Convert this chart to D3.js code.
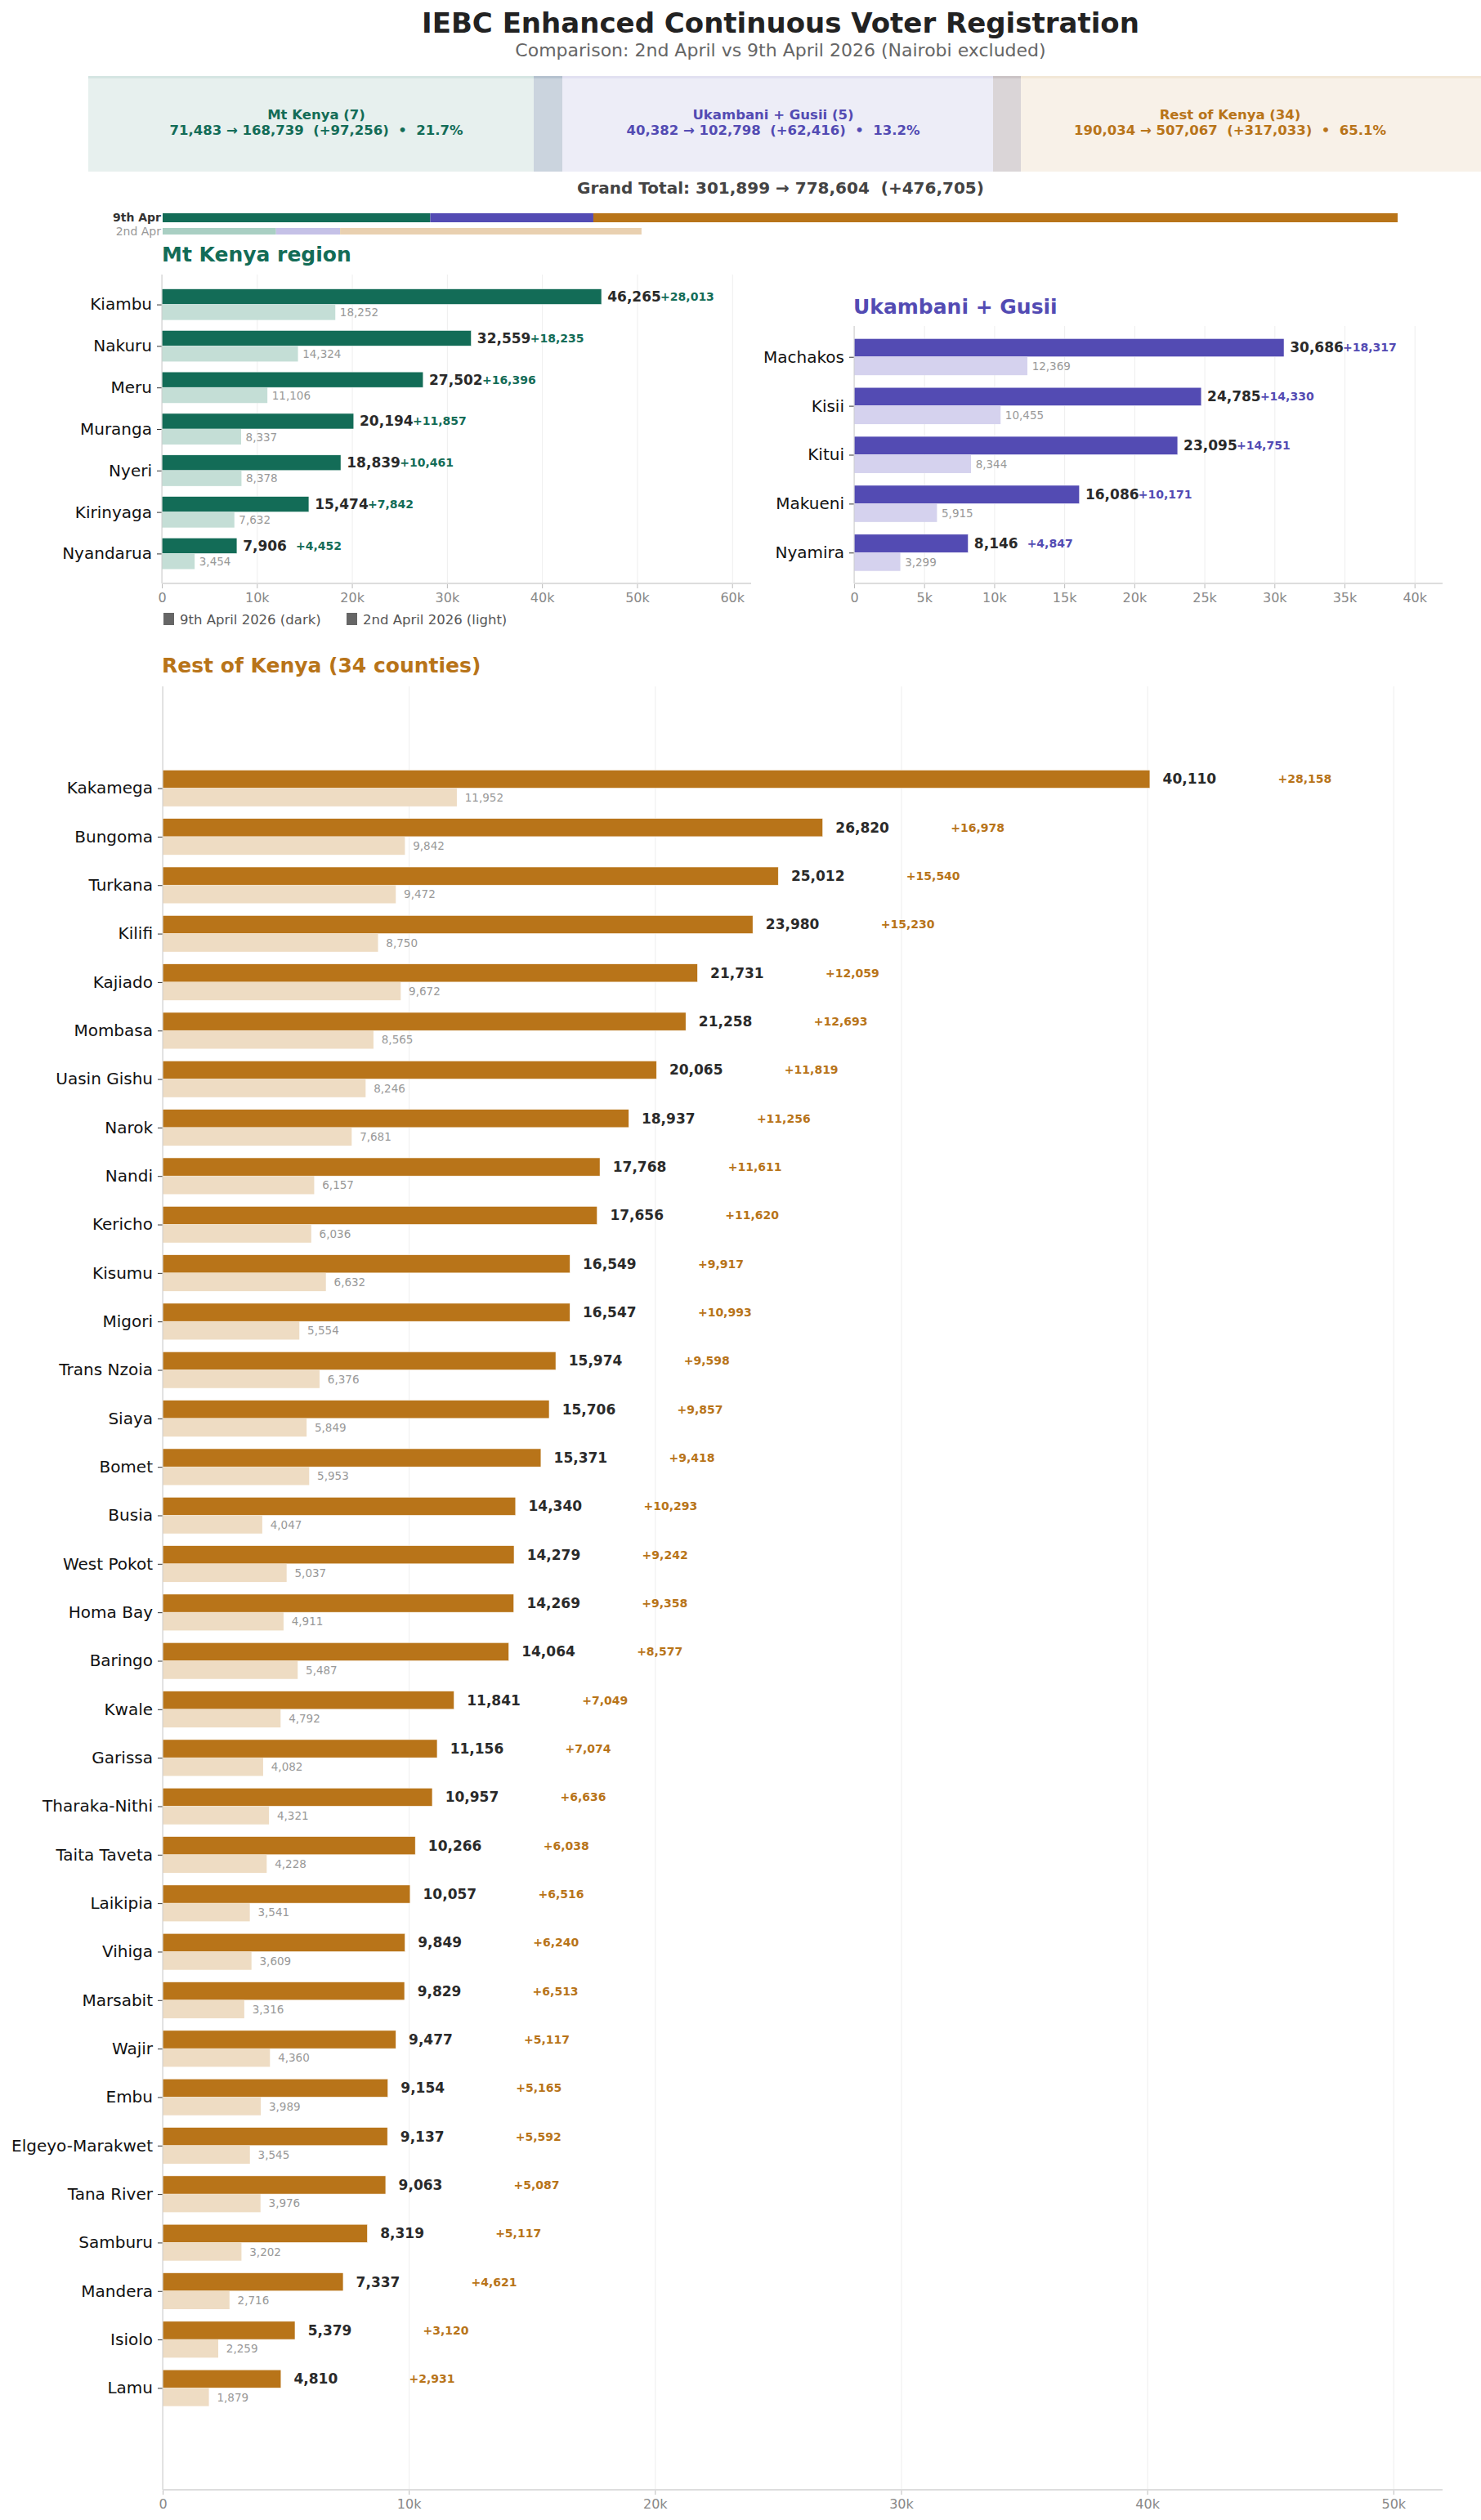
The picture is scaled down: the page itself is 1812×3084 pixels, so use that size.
<!DOCTYPE html>
<html>
<head>
<meta charset="utf-8">
<script src="https://cdn.jsdelivr.net/npm/d3@7"></script>
<style>
  body { margin: 0; background: #fff; }
  text { font-family: "DejaVu Sans", sans-serif; white-space: pre; }
</style>
</head>
<body>
<div id="chart"></div>
<script>
// data
var mtKenyaCounties = ["Kiambu", "Nakuru", "Meru", "Muranga", "Nyeri", "Kirinyaga", "Nyandarua"];
var mtKenyaApr9 = [46265, 32559, 27502, 20194, 18839, 15474, 7906];
var mtKenyaApr2 = [18252, 14324, 11106, 8337, 8378, 7632, 3454];

var ukambaniCounties = ["Machakos", "Kisii", "Kitui", "Makueni", "Nyamira"];
var ukambaniApr9 = [30686, 24785, 23095, 16086, 8146];
var ukambaniApr2 = [12369, 10455, 8344, 5915, 3299];

var restCounties = ["Kakamega", "Bungoma", "Turkana", "Kilifi", "Kajiado", "Mombasa", "Uasin Gishu", "Narok",
  "Nandi", "Kericho", "Kisumu", "Migori", "Trans Nzoia", "Siaya", "Bomet", "Busia", "West Pokot", "Homa Bay",
  "Baringo", "Kwale", "Garissa", "Tharaka-Nithi", "Taita Taveta", "Laikipia", "Vihiga", "Marsabit", "Wajir",
  "Embu", "Elgeyo-Marakwet", "Tana River", "Samburu", "Mandera", "Isiolo", "Lamu"];
var restApr9 = [40110, 26820, 25012, 23980, 21731, 21258, 20065, 18937, 17768, 17656, 16549, 16547, 15974,
  15706, 15371, 14340, 14279, 14269, 14064, 11841, 11156, 10957, 10266, 10057, 9849, 9829, 9477, 9154, 9137,
  9063, 8319, 7337, 5379, 4810];
var restApr2 = [11952, 9842, 9472, 8750, 9672, 8565, 8246, 7681, 6157, 6036, 6632, 5554, 6376, 5849, 5953,
  4047, 5037, 4911, 5487, 4792, 4082, 4321, 4228, 3541, 3609, 3316, 4360, 3989, 3545, 3976, 3202, 2716,
  2259, 1879];

var regionNames = ["Mt Kenya (7)", "Ukambani + Gusii (5)", "Rest of Kenya (34)"];
var mtTicks = [0, 10000, 20000, 30000, 40000, 50000, 60000];
var ukTicks = [0, 5000, 10000, 15000, 20000, 25000, 30000, 35000, 40000];
var restTicks = [0, 10000, 20000, 30000, 40000, 50000];

var green = "#136c57", greenLight = "#c4ded6", greenMid = "#a9cfc3";
var purple = "#534bb3", purpleLight = "#d5d2ee", purpleMid = "#c5c1e7";
var orange = "#b87419", orangeLight = "#eedcc3", orangeMid = "#e9d0b0";

var fmt = d3.format(",");
var svgWidth = 1812, svgHeight = 3084;

var svg = d3.select('#chart')
  .append('svg')
  .attr("width", svgWidth)
  .attr("height", svgHeight);

// titles
svg.append("text").attr("x", 955).attr("y", 40).attr("text-anchor", "middle")
  .attr("font-size", 34).attr("font-weight", "bold").attr("fill", "#222")
  .text("IEBC Enhanced Continuous Voter Registration");
svg.append("text").attr("x", 955).attr("y", 69).attr("text-anchor", "middle")
  .attr("font-size", 22).attr("fill", "#666")
  .text("Comparison: 2nd April vs 9th April 2026 (Nairobi excluded)");

// summary boxes
var totals9 = [d3.sum(mtKenyaApr9), d3.sum(ukambaniApr9), d3.sum(restApr9)];
var totals2 = [d3.sum(mtKenyaApr2), d3.sum(ukambaniApr2), d3.sum(restApr2)];
var grand9 = d3.sum(totals9), grand2 = d3.sum(totals2);
var darkColors = [green, purple, orange];
var midColors = [greenMid, purpleMid, orangeMid];

var boxLeft = [108, 653, 1215], boxRight = [688, 1249, 1812], boxText = [387, 946, 1505];
var boxes = svg.append("g");
boxes.selectAll("rect.box").data(regionNames).enter().append("rect")
  .attr("x", (d, i) => boxLeft[i]).attr("y", 93)
  .attr("width", (d, i) => boxRight[i] - boxLeft[i]).attr("height", 117)
  .attr("fill", (d, i) => darkColors[i]).attr("fill-opacity", 0.1);
boxes.selectAll("rect.edge").data(regionNames).enter().append("rect")
  .attr("x", (d, i) => boxLeft[i]).attr("y", 93)
  .attr("width", (d, i) => boxRight[i] - boxLeft[i]).attr("height", 3)
  .attr("fill", (d, i) => darkColors[i]).attr("fill-opacity", 0.08);
// overlaps between neighbouring boxes
boxes.selectAll("rect.overlap").data([0, 1]).enter().append("rect")
  .attr("x", i => boxLeft[i + 1]).attr("y", 93)
  .attr("width", i => boxRight[i] - boxLeft[i + 1]).attr("height", 117)
  .attr("fill", "#7a8aa0").attr("fill-opacity", 0.12);

regionNames.forEach(function(name, i) {
  var t = boxes.append("text").attr("text-anchor", "middle").attr("font-weight", "bold")
    .attr("font-size", 16.5).attr("fill", darkColors[i]);
  t.append("tspan").attr("x", boxText[i]).attr("y", 146).text(name);
  t.append("tspan").attr("x", boxText[i]).attr("y", 165)
    .text(fmt(totals2[i]) + " \u2192 " + fmt(totals9[i]) + "  (+" + fmt(totals9[i] - totals2[i]) + ")  \u2022  " +
      (totals9[i] / grand9 * 100).toFixed(1) + "%");
});

svg.append("text").attr("x", 955).attr("y", 237).attr("text-anchor", "middle")
  .attr("font-size", 20).attr("font-weight", "bold").attr("fill", "#444")
  .text("Grand Total: " + fmt(grand2) + " \u2192 " + fmt(grand9) + "  (+" + fmt(grand9 - grand2) + ")");

// stacked total bars
var xs = d3.scaleLinear().domain([0, grand9]).range([199, 1710]);
var cum9 = [0].concat(Array.from(d3.cumsum(totals9)));
var cum2 = [0].concat(Array.from(d3.cumsum(totals2)));
svg.selectAll("rect.s9").data(totals9).enter().append("rect")
  .attr("x", (d, i) => xs(cum9[i])).attr("y", 261).attr("height", 11)
  .attr("width", (d, i) => xs(cum9[i + 1]) - xs(cum9[i])).attr("fill", (d, i) => darkColors[i]);
svg.selectAll("rect.s2").data(totals2).enter().append("rect")
  .attr("x", (d, i) => xs(cum2[i])).attr("y", 279).attr("height", 8)
  .attr("width", (d, i) => xs(cum2[i + 1]) - xs(cum2[i])).attr("fill", (d, i) => midColors[i]);
svg.append("text").attr("x", 197).attr("y", 267).attr("text-anchor", "end").attr("dominant-baseline", "middle")
  .attr("font-size", 14).attr("font-weight", "bold").attr("fill", "#333").text("9th Apr");
svg.append("text").attr("x", 197).attr("y", 284).attr("text-anchor", "end").attr("dominant-baseline", "middle")
  .attr("font-size", 14).attr("fill", "#999").text("2nd Apr");

function drawPanel(p) {
  var x = d3.scaleLinear().domain([0, p.xmax]).range([p.left, p.right]);
  var y = d3.scalePoint().domain(p.counties).range([p.top, p.bottom]).padding(p.pad);
  var bh = y.step() * 0.375;
  var g = svg.append("g");

  // grid
  g.append("g").attr("transform", "translate(0," + p.bottom + ")")
    .call(d3.axisBottom(x).tickValues(p.ticks).tickSize(-(p.bottom - p.top)).tickFormat(""))
    .call(s => s.select(".domain").remove())
    .selectAll("line").attr("stroke", "#eee");

  var rows = p.counties.map((c, i) => ({ county: c, now: p.apr9[i], before: p.apr2[i], diff: p.apr9[i] - p.apr2[i] }));

  g.selectAll("rect.dark").data(rows).enter().append("rect")
    .attr("x", x(0)).attr("y", d => y(d.county) - bh)
    .attr("width", d => x(d.now) - x(0)).attr("height", bh)
    .attr("fill", p.color).attr("stroke", "#fff").attr("stroke-width", 0.6);
  g.selectAll("rect.light").data(rows).enter().append("rect")
    .attr("x", x(0)).attr("y", d => y(d.county))
    .attr("width", d => x(d.before) - x(0)).attr("height", bh)
    .attr("fill", p.light);

  g.selectAll("text.val").data(rows).enter().append("text")
    .attr("x", d => x(d.now + p.xmax * 0.01)).attr("y", d => y(d.county) - bh / 2)
    .attr("dominant-baseline", "central").attr("font-size", 17).attr("font-weight", "bold")
    .attr("fill", "#2a2a2a").text(d => fmt(d.now));
  g.selectAll("text.delta").data(rows).enter().append("text")
    .attr("x", d => x(d.now + p.xmax * 0.1)).attr("y", d => y(d.county) - bh / 2)
    .attr("dominant-baseline", "central").attr("font-size", 14).attr("font-weight", "bold")
    .attr("fill", p.color).text(d => "+" + fmt(d.diff));
  g.selectAll("text.prev").data(rows).enter().append("text")
    .attr("x", d => x(d.before + p.xmax * 0.005) + 2).attr("y", d => y(d.county) + bh / 2)
    .attr("dominant-baseline", "central").attr("font-size", 13.5)
    .attr("fill", "#999").text(d => fmt(d.before));

  // axes
  var ya = g.append("g").attr("transform", "translate(" + p.left + ",0)")
    .call(d3.axisLeft(y).tickSize(6).tickPadding(6).tickSizeOuter(0));
  ya.select(".domain").remove();
  ya.selectAll("text").attr("font-size", 20).attr("fill", "#111").attr("font-family", "DejaVu Sans");
  ya.selectAll("line").attr("stroke", "#333");
  g.append("line").attr("x1", p.left).attr("x2", p.left).attr("y1", p.top).attr("y2", p.bottom)
    .attr("stroke", "#ccc");

  var xa = g.append("g").attr("transform", "translate(0," + p.bottom + ")")
    .call(d3.axisBottom(x).tickValues(p.ticks).tickSize(6).tickPadding(6)
      .tickFormat(d => d === 0 ? "0" : (d / 1000) + "k"));
  xa.select(".domain").remove();
  xa.selectAll("text").attr("font-size", 16).attr("fill", "#888").attr("font-family", "DejaVu Sans");
  xa.selectAll("line").attr("stroke", "#bbb");
  g.append("line").attr("x1", p.left).attr("x2", p.right).attr("y1", p.bottom).attr("y2", p.bottom)
    .attr("stroke", "#ddd").attr("stroke-width", 2);

  g.append("text").attr("x", p.titleX).attr("y", p.titleY).attr("font-size", 25)
    .attr("font-weight", "bold").attr("fill", p.color).text(p.title);
}

drawPanel({
  title: "Mt Kenya region", titleX: 198, titleY: 320,
  counties: mtKenyaCounties, apr9: mtKenyaApr9, apr2: mtKenyaApr2,
  color: green, light: greenLight, xmax: 62000, ticks: mtTicks,
  left: 198, right: 919, top: 336, bottom: 714, pad: 0.72
});
drawPanel({
  title: "Ukambani + Gusii", titleX: 1044, titleY: 384,
  counties: ukambaniCounties, apr9: ukambaniApr9, apr2: ukambaniApr2,
  color: purple, light: purpleLight, xmax: 42000, ticks: ukTicks,
  left: 1045, right: 1765, top: 399, bottom: 714, pad: 0.63
});
drawPanel({
  title: "Rest of Kenya (34 counties)", titleX: 198, titleY: 823,
  counties: restCounties, apr9: restApr9, apr2: restApr2,
  color: orange, light: orangeLight, xmax: 52000, ticks: restTicks,
  left: 199, right: 1765, top: 840, bottom: 3047, pad: 2.1
});

// legend under the Mt Kenya panel
var legend = svg.append("g");
legend.append("rect").attr("x", 200).attr("y", 750).attr("width", 13).attr("height", 15).attr("fill", "#666");
legend.append("text").attr("x", 220).attr("y", 758).attr("dominant-baseline", "central")
  .attr("font-size", 16.5).attr("fill", "#555").text("9th April 2026 (dark)");
legend.append("rect").attr("x", 424).attr("y", 750).attr("width", 13).attr("height", 15).attr("fill", "#666");
legend.append("text").attr("x", 444).attr("y", 758).attr("dominant-baseline", "central")
  .attr("font-size", 16.5).attr("fill", "#555").text("2nd April 2026 (light)");
</script>
</body>
</html>
